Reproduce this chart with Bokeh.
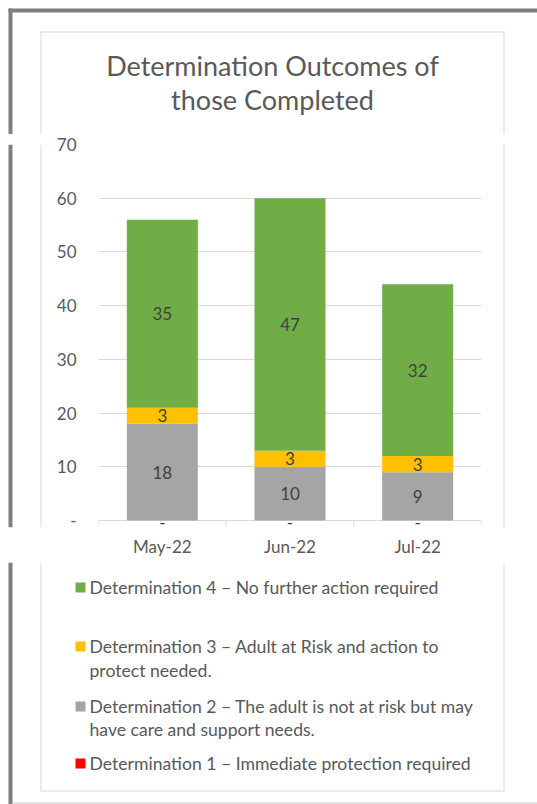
from bokeh.plotting import figure
from bokeh.layouts import column, row
from bokeh.models import ColumnDataSource, FixedTicker, LabelSet, Range1d
from bokeh.core.properties import value
from bokeh.embed import file_html
from bokeh.resources import INLINE

# ---------------- data ----------------
months = ["May-22", "Jun-22", "Jul-22"]
det1 = [0, 0, 0]      # Determination 1 – Immediate protection required
det2 = [18, 10, 9]    # Determination 2
det3 = [3, 3, 3]      # Determination 3
det4 = [35, 47, 32]   # Determination 4
y_ticks = [0, 10, 20, 30, 40, 50, 60, 70]
title_lines = ["Determination Outcomes of", "those Completed"]
legend_labels = [
    ["Determination 4 \u2013 No further action required"],
    ["Determination 3 \u2013 Adult at Risk and action to", "protect needed."],
    ["Determination 2 \u2013 The adult is not at risk but may", "have care and support needs."],
    ["Determination 1 \u2013 Immediate protection required"],
]
series = [det1, det2, det3, det4]
colors = ["#ff0000", "#a5a5a5", "#ffc000", "#70ad47"]
legend_colors = ["#70ad47", "#ffc000", "#a5a5a5", "#ff0000"]

FONT = "Lato"
TXT = "#595959"
LBL = "#404040"
FRAME = "#7f7f7f"
LIGHT = "#d9d9d9"

W, H = 537, 804
TOP_H = 134          # title strip: page y 0..134
MID_Y0, MID_Y1 = 134, 562
CH_X0, CH_X1 = 44, 483   # chart figure spans page x 44..483


def deco(x0, x1, y0, y1):
    """A figure whose data coordinates are page pixels (y downward)."""
    f = figure(width=x1 - x0, height=y1 - y0, x_range=Range1d(x0, x1), y_range=Range1d(y1, y0),
               output_backend="svg", toolbar_location=None, min_border=0,
               x_axis_location=None, y_axis_location=None)
    f.grid.visible = False
    f.outline_line_color = None
    f.background_fill_color = "white"
    f.border_fill_color = "white"
    return f


def frame_parts(f, y0, y1, x0, x1):
    if x0 <= 8:
        f.quad(left=8, right=12, top=max(y0, 8), bottom=y1, fill_color=FRAME, line_color=None)
    for lx in (40.5, 503.5):
        if x0 <= lx <= x1:
            f.segment(x0=lx, x1=lx, y0=max(y0, 31), y1=min(y1, 790), line_color=LIGHT, line_width=1)


# ---------------- title strip ----------------
top = deco(0, W, 0, TOP_H)
top.quad(left=8, right=W, top=8, bottom=12, fill_color=FRAME, line_color=None)
frame_parts(top, 0, TOP_H, 0, W)
top.segment(x0=40, x1=504, y0=31.5, y1=31.5, line_color=LIGHT, line_width=1)
top.text(x=[272, 272], y=[65, 99], text=title_lines, text_font=value(FONT), text_font_size=value("27px"),
         text_color=TXT, text_align="center", text_baseline="middle")

# ---------------- chart ----------------
xs = [i + 0.5 for i in range(len(months))]
src = ColumnDataSource(dict(x=xs, d1=det1, d2=det2, d3=det3, d4=det4))

p = figure(width=CH_X1 - CH_X0, height=MID_Y1 - MID_Y0,
           x_range=Range1d(0, len(months)), y_range=Range1d(-1.3, 70),
           output_backend="svg", toolbar_location=None,
           min_border_left=98 - CH_X0, min_border_right=CH_X1 - 481,
           min_border_top=144 - MID_Y0, min_border_bottom=MID_Y1 - 527)
p.outline_line_color = None
p.background_fill_color = "white"
p.border_fill_color = "white"

p.vbar_stack(["d1", "d2", "d3", "d4"], x="x", width=0.556, source=src,
             fill_color=colors, line_color=None)

# category boundary tick marks hanging below the baseline
bounds = list(range(len(months) + 1))
p.segment(x0=bounds, x1=bounds, y0=[0] * len(bounds), y1=[-1.05] * len(bounds),
          line_color=LIGHT, line_width=1)

p.yaxis.ticker = FixedTicker(ticks=y_ticks)
p.yaxis.major_label_overrides = {0: "-"}
p.yaxis.axis_line_color = None
p.yaxis.major_tick_line_color = None
p.yaxis.minor_tick_line_color = None
p.yaxis.major_tick_out = 0
p.yaxis.major_tick_in = 0
p.yaxis.major_label_standoff = 22
p.yaxis.major_label_text_font = FONT
p.yaxis.major_label_text_font_size = "17px"
p.yaxis.major_label_text_color = TXT

p.xaxis.ticker = FixedTicker(ticks=xs)
p.xaxis.major_label_overrides = {x: m for x, m in zip(xs, months)}
p.xaxis.axis_line_color = None
p.xaxis.major_tick_line_color = None
p.xaxis.minor_tick_line_color = None
p.xaxis.major_tick_out = 0
p.xaxis.major_tick_in = 0
p.xaxis.minor_tick_out = 0
p.xaxis.major_label_standoff = 8
p.xaxis.major_label_text_font = FONT
p.xaxis.major_label_text_font_size = "17px"
p.xaxis.major_label_text_color = TXT

p.xgrid.grid_line_color = None
p.ygrid.ticker = FixedTicker(ticks=y_ticks)
p.ygrid.grid_line_color = LIGHT

# data labels (zero values shown as "-")
lx, ly, lt, zx, zy, zt = [], [], [], [], [], []
for i, x in enumerate(xs):
    base = 0
    for s in series:
        v = s[i]
        if v:
            lx.append(x); ly.append(base + v / 2); lt.append(str(v))
        else:
            zx.append(x); zy.append(base); zt.append("-")
        base += v
p.add_layout(LabelSet(x="x", y="y", text="t", source=ColumnDataSource(dict(x=lx, y=ly, t=lt)),
                      text_align="center", text_baseline="middle", text_font=value(FONT),
                      text_font_size="17px", text_color=LBL))
p.add_layout(LabelSet(x="x", y="y", text="t", source=ColumnDataSource(dict(x=zx, y=zy, t=zt)),
                      text_align="center", text_baseline="middle", text_font=value(FONT),
                      text_font_size="17px", text_color=LBL, y_offset=-2))

left = deco(0, CH_X0, MID_Y0, MID_Y1)
frame_parts(left, MID_Y0, MID_Y1, 0, CH_X0)
right = deco(CH_X1, W, MID_Y0, MID_Y1)
frame_parts(right, MID_Y0, MID_Y1, CH_X1, W)

# ---------------- legend strip ----------------
leg = deco(0, W, MID_Y1, H)
frame_parts(leg, MID_Y1, H, 0, W)
leg.segment(x0=40, x1=504, y0=790.5, y1=790.5, line_color=LIGHT, line_width=1)
leg.segment(x0=12, x1=W, y0=802.5, y1=802.5, line_color=LIGHT, line_width=1.5)

rows = [[587], [646, 670], [706, 729], [763]]
tx, ty, tt = [], [], []
for lines, ys in zip(legend_labels, rows):
    for t, yy in zip(lines, ys):
        tx.append(89); ty.append(yy); tt.append(t)
leg.rect(x=[80] * len(rows), y=[r[0] for r in rows], width=10, height=10,
         fill_color=legend_colors, line_color=None)
leg.text(x=tx, y=ty, text=tt, text_font=value(FONT), text_font_size=value("17.6px"),
         text_color=TXT, text_align="left", text_baseline="middle")

layout = column(top, row(left, p, right), leg)
open("out.html", "w").write(file_html(layout, INLINE))
